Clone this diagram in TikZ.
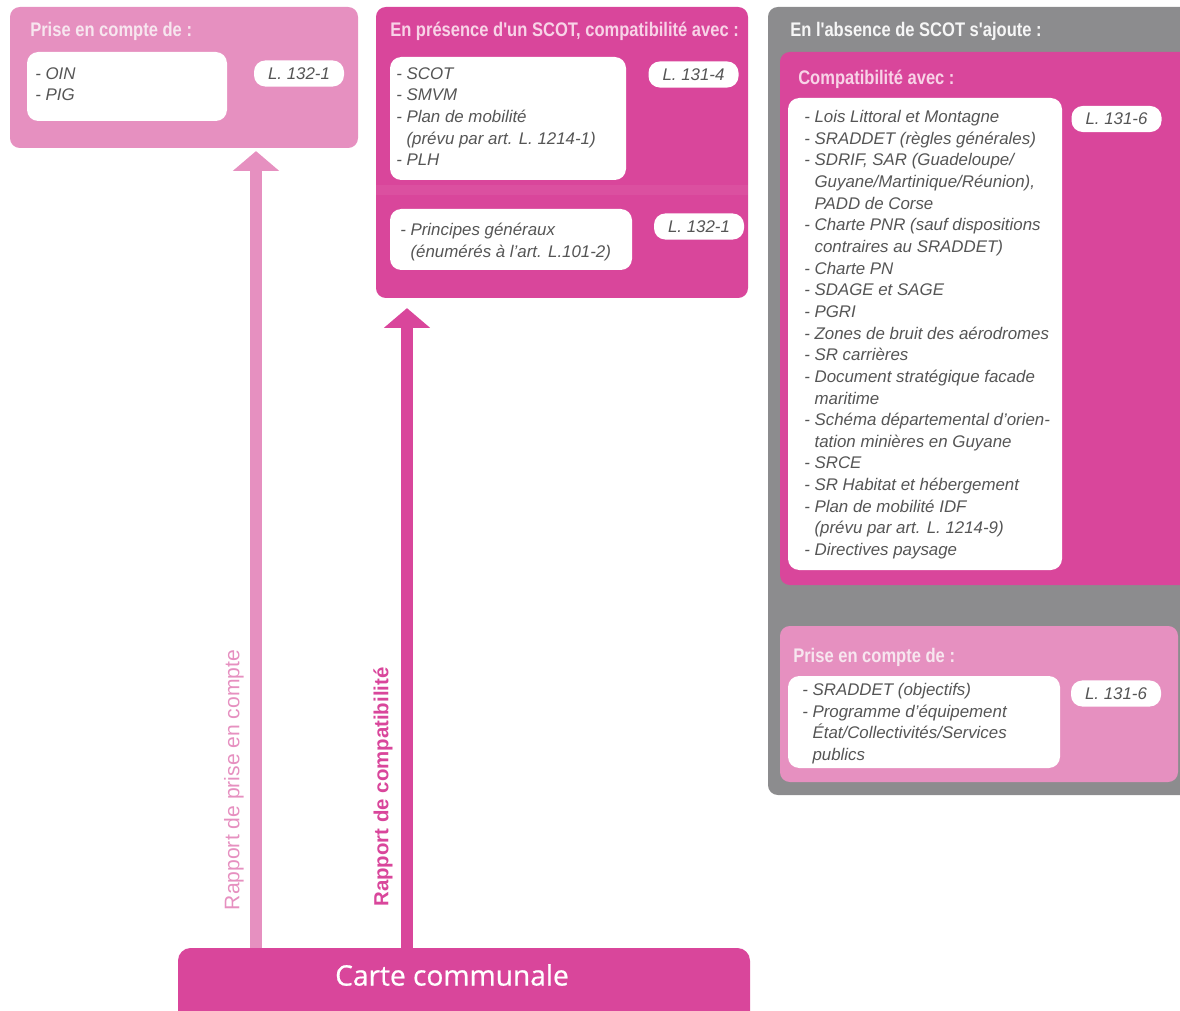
\documentclass[tikz,border=0pt]{standalone}
\usepackage{fontspec}
\setmainfont{Liberation Sans}
\newfontfamily\titrefont{Liberation Sans}[FakeStretch=0.84]
\newfontfamily\cartefont{Open Sans}[FakeBold=0.6]
\usepackage{xcolor}
\definecolor{rose}{HTML}{E690C0}
\definecolor{fuchsia}{HTML}{D9469B}
\definecolor{gris}{HTML}{8C8C8E}
\definecolor{pale}{HTML}{F8D3E7}
\definecolor{blanchi}{HTML}{F7E6EF}
\definecolor{texte}{HTML}{555555}
\usepackage{tikz}
\usetikzlibrary{fit}
\usetikzlibrary{arrows.meta}

\tikzset{
    cadre/.style={fill=#1, rounded corners=7pt, inner sep=0pt},
    blanc/.style={fill=white, rounded corners=8pt, inner sep=0pt},
    pilule/.style={fill=white, rounded corners=8pt, inner sep=0pt,
        minimum width=64pt, minimum height=18.5pt,
        font=\fontsize{12}{14}\selectfont\itshape, text=texte},
    titre/.style={anchor=base west, inner sep=0pt, text=pale,
        font=\titrefont\fontsize{14}{16}\selectfont\bfseries},
    liste/.style={anchor=north west, inner sep=0pt, align=left, text=texte,
        font=\fontsize{12}{15.4}\selectfont\itshape},
    fleche/.style={line width=9.2pt, -{Triangle[width=32pt,length=14pt]}}
}

\begin{document}
\begin{tikzpicture}[x=0.025cm, y=-0.025cm]
            \useasboundingbox (0, 0) rectangle (1180, 1011);

            \node[cadre=rose, fit={(10, 7) (358, 148)}] (pc) {};
            \node[titre, text=blanchi] (pct) at (30, 37) {Prise en compte de :};
            \node[blanc, fit={(27, 52) (227, 121)}] (pcb) {};
            \node[liste] (pcl) at (35, 67) {- OIN\\- PIG};
            \node[pilule] (pcr) at (299, 73.5) {L. 132-1};

            \node[cadre=fuchsia, fit={(376, 7) (748, 298)}] (sc) {};
            \fill[white, opacity=.06] (376, 185) rectangle (748, 195);
            \node[titre] (sct) at (390, 37) {En présence d'un SCOT, compatibilité avec :};
            \node[blanc, fit={(390, 57) (626, 180)}] (scb) {};
            \node[liste] (scl) at (396, 67) {- SCOT\\- SMVM\\- Plan de mobilité\\\hphantom{- }(prévu par art. L. 1214-1)\\- PLH};
            \node[pilule] (scr) at (693.5, 74.5) {L. 131-4};
            \node[blanc, fit={(390, 209) (632, 270)}] (pgb) {};
            \node[liste] (pgl) at (400, 223) {- Principes généraux\\\hphantom{- }(énumérés à l'art. L.101-2)};
            \node[pilule] (pgr) at (699, 226.5) {L. 132-1};

            \node[cadre=gris, fit={(768, 7) (1190, 795)}] (ab) {};
            \node[titre, text=white!92!gris] (abt) at (790, 37) {En l'absence de SCOT s'ajoute :};

            \node[cadre=fuchsia, fit={(780, 52) (1190, 585)}] (co) {};
            \node[titre] (cot) at (798, 85) {Compatibilité avec :};
            \node[blanc, fit={(788, 98) (1062, 570)}] (cob) {};
            \node[liste] (col) at (804, 110) {- Lois Littoral et Montagne\\
                - SRADDET (règles générales)\\
                - SDRIF, SAR (Guadeloupe/\\
                \hphantom{- }Guyane/Martinique/Réunion),\\
                \hphantom{- }PADD de Corse\\
                - Charte PNR (sauf dispositions\\
                \hphantom{- }contraires au SRADDET)\\
                - Charte PN\\
                - SDAGE et SAGE\\
                - PGRI\\
                - Zones de bruit des aérodromes\\
                - SR carrières\\
                - Document stratégique facade\\
                \hphantom{- }maritime\\
                - Schéma départemental d'orien-\\
                \hphantom{- }tation minières en Guyane\\
                - SRCE\\
                - SR Habitat et hébergement\\
                - Plan de mobilité IDF\\
                \hphantom{- }(prévu par art. L. 1214-9)\\
                - Directives paysage};
            \node[pilule] (cor) at (1116.5, 119) {L. 131-6};

            \node[cadre=rose, fit={(780, 626) (1178, 782)}] (pe) {};
            \node[titre, text=blanchi] (pet) at (793, 662) {Prise en compte de :};
            \node[blanc, fit={(788, 676) (1060, 768)}] (peb) {};
            \node[liste] (pel) at (802, 683) {- SRADDET (objectifs)\\
                - Programme d'équipement\\
                \hphantom{- }État/Collectivités/Services\\
                \hphantom{- }publics};
            \node[pilule] (per) at (1116, 693.5) {L. 131-6};

            \coordinate (a1) at (256, 0);
            \coordinate (a2) at (407, 0);
            \node[cadre=fuchsia, rounded corners=9pt, fit={(178, 948) (750, 1030)}] (cc) {};
            \node[text=white, font=\cartefont\fontsize{20}{24}\selectfont] (cct) at (452, 975) {Carte communale};

            \draw[fleche, rose] (cc.north -| a1) -- ([yshift=-2pt]pc.south -| a1);
            \draw[fleche, fuchsia] (cc.north -| a2) -- ([yshift=-7pt]sc.south -| a2);

            \node[rotate=90, text=rose, inner sep=0pt, font=\fontsize{15}{18}\selectfont] (rp) at (234, 780) {Rapport de prise en compte};
            \node[rotate=90, text=fuchsia, inner sep=0pt, font=\fontsize{14.5}{18}\selectfont\bfseries] (rc) at (383, 787) {Rapport de compatibilité};
        \end{tikzpicture}
\end{document}
